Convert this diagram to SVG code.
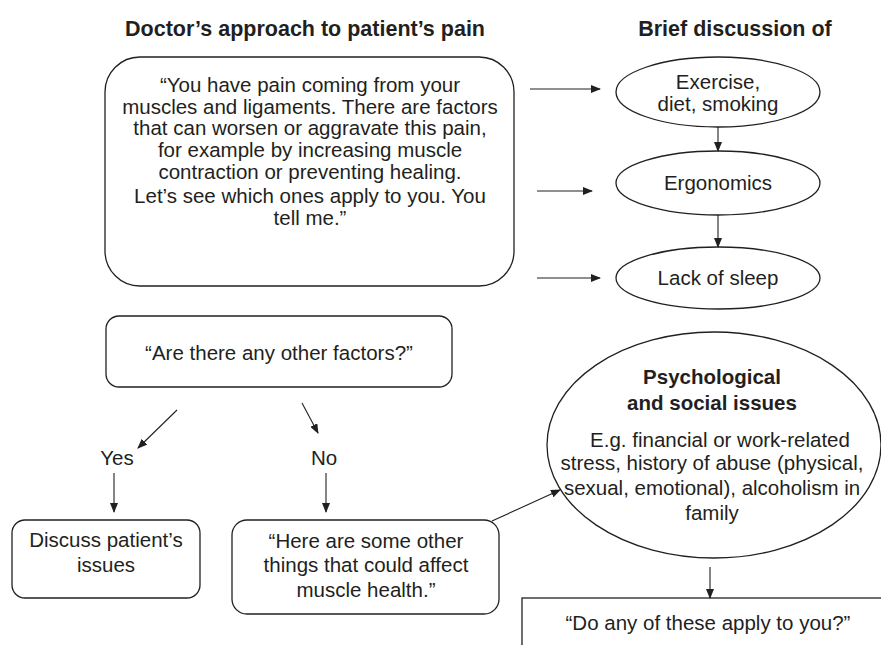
<svg xmlns="http://www.w3.org/2000/svg" width="881" height="645" viewBox="0 0 881 645">
<defs>
<marker id="ah" markerWidth="10" markerHeight="8" refX="9" refY="4" orient="auto" markerUnits="userSpaceOnUse">
<path d="M0,0 L10,4 L0,8 z" fill="#231f20"/>
</marker>
<style>
text{font-family:"Liberation Sans",Arial,sans-serif;font-size:20.5px;fill:#231f20;text-anchor:middle}
.t{font-weight:bold;font-size:21.5px}
.b{font-weight:bold}
.s{fill:#fff;stroke:#231f20;stroke-width:1.3}
.c{stroke:#231f20;stroke-width:1.1;fill:none;marker-end:url(#ah)}
</style>
</defs>
<rect width="881" height="645" fill="#fff"/>
<g id="titles">
<text class="t" x="305" y="36">Doctor’s approach to patient’s pain</text>
<text class="t" x="735" y="36">Brief discussion of</text>
</g>
<g id="intro">
<rect class="s" x="105" y="57" width="409" height="229" rx="35"/>
<text x="310" y="92">“You have pain coming from your</text>
<text x="310" y="114">muscles and ligaments. There are factors</text>
<text x="310" y="135">that can worsen or aggravate this pain,</text>
<text x="310" y="157">for example by increasing muscle</text>
<text x="310" y="179">contraction or preventing healing.</text>
<text x="310" y="203">Let’s see which ones apply to you. You</text>
<text x="310" y="225">tell me.”</text>
</g>
<g id="exercise">
<ellipse class="s" cx="718" cy="92" rx="102" ry="35"/>
<text x="718" y="89">Exercise,</text>
<text x="718" y="111">diet, smoking</text>
</g>
<g id="ergonomics">
<ellipse class="s" cx="718" cy="183" rx="102" ry="32"/>
<text x="718" y="190">Ergonomics</text>
</g>
<g id="sleep">
<ellipse class="s" cx="718" cy="278" rx="102" ry="31"/>
<text x="718" y="285">Lack of sleep</text>
</g>
<g id="other">
<rect class="s" x="106" y="316" width="346" height="71" rx="13"/>
<text x="279" y="360">“Are there any other factors?”</text>
</g>
<g id="yes"><text x="117" y="465">Yes</text></g>
<g id="no"><text x="324" y="465">No</text></g>
<g id="discuss">
<rect class="s" x="12" y="520" width="188" height="78" rx="13"/>
<text x="106" y="547">Discuss patient’s</text>
<text x="106" y="572">issues</text>
</g>
<g id="here">
<rect class="s" x="232" y="520" width="267" height="94" rx="15"/>
<text x="366" y="548">“Here are some other</text>
<text x="366" y="572">things that could affect</text>
<text x="366" y="597">muscle health.”</text>
</g>
<g id="psych">
<ellipse class="s" cx="714" cy="445" rx="167" ry="113"/>
<text class="b" x="712" y="384">Psychological</text>
<text class="b" x="712" y="410">and social issues</text>
<text x="720" y="447">E.g. financial or work-related</text>
<text x="712" y="470">stress, history of abuse (physical,</text>
<text x="712" y="495">sexual, emotional), alcoholism in</text>
<text x="712" y="520">family</text>
</g>
<g id="apply">
<rect class="s" x="522" y="598" width="380" height="80"/>
<text x="708" y="630">“Do any of these apply to you?”</text>
</g>
<g id="connectors">
<line class="c" x1="530" y1="89" x2="600" y2="89"/>
<line class="c" x1="537" y1="191" x2="592" y2="191"/>
<line class="c" x1="537" y1="278" x2="600" y2="278"/>
<line class="c" x1="718" y1="127" x2="718" y2="151"/>
<line class="c" x1="718" y1="215" x2="718" y2="247"/>
<line class="c" x1="177" y1="410" x2="138" y2="448"/>
<line class="c" x1="302" y1="403" x2="318" y2="433"/>
<line class="c" x1="114" y1="473" x2="114" y2="512"/>
<line class="c" x1="326" y1="473" x2="326" y2="512"/>
<line class="c" x1="492" y1="521" x2="560" y2="490"/>
<line class="c" x1="710" y1="567" x2="710" y2="598"/>
</g>
</svg>
